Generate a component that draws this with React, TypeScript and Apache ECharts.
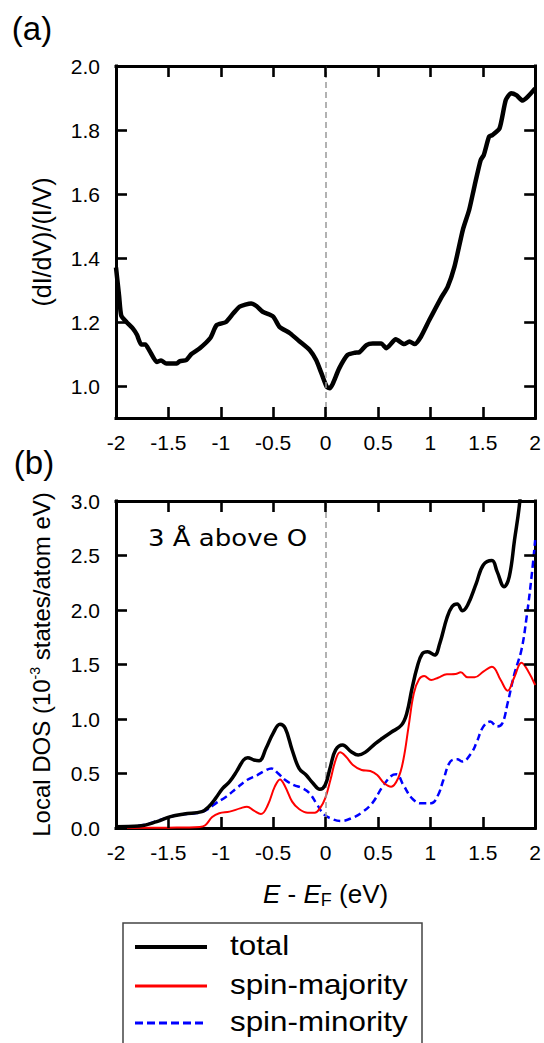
import React, { useEffect, useRef } from "react";
import * as echarts from "echarts";

// ---------- data ----------
const xTickValues = [-2, -1.5, -1, -0.5, 0, 0.5, 1, 1.5, 2];
const ratioTickValues = [1.0, 1.2, 1.4, 1.6, 1.8, 2.0];
const dosTickValues = [0, 0.5, 1, 1.5, 2, 2.5, 3];

// panel (a): (dI/dV)/(I/V)
const biasV = [
  -2.0, -1.99, -1.97, -1.95, -1.9, -1.84, -1.8, -1.76, -1.72, -1.68, -1.61, -1.57, -1.52, -1.42,
  -1.39, -1.33, -1.28, -1.2, -1.1, -1.04, -0.95, -0.88, -0.82, -0.71, -0.66, -0.6, -0.5, -0.44,
  -0.34, -0.25, -0.15, -0.09, -0.04, 0.01, 0.04, 0.07, 0.13, 0.21, 0.28, 0.32, 0.39, 0.45, 0.53,
  0.58, 0.67, 0.75, 0.8, 0.85, 0.91, 0.99, 1.1, 1.165, 1.23, 1.31, 1.37, 1.42, 1.48, 1.51, 1.56,
  1.59, 1.66, 1.72, 1.77, 1.82, 1.88, 1.93, 2.0,
];
const ratioValues = [
  1.37, 1.34, 1.28, 1.22, 1.2, 1.18, 1.16, 1.13, 1.13, 1.11, 1.075, 1.08, 1.07, 1.07,
  1.078, 1.081, 1.1, 1.118, 1.15, 1.19, 1.2, 1.227, 1.248, 1.258, 1.25, 1.232, 1.217, 1.185,
  1.165, 1.14, 1.112, 1.081, 1.04, 0.998, 0.993, 1.008, 1.055, 1.097, 1.104, 1.105, 1.128, 1.133, 1.133,
  1.118, 1.146, 1.131, 1.139, 1.131, 1.154, 1.206, 1.274, 1.31, 1.373, 1.488, 1.55, 1.623, 1.706, 1.722, 1.779,
  1.784, 1.805, 1.894, 1.915, 1.909, 1.892, 1.904, 1.93,
];

// panel (b): local DOS
const eTotal = [
  -2.0, -1.78, -1.61, -1.48, -1.35, -1.18, -1.115, -1.05, -0.982, -0.916, -0.85, -0.783, -0.743,
  -0.684, -0.634, -0.568, -0.501, -0.435, -0.385, -0.319, -0.253, -0.186, -0.12, -0.054, -0.004,
  0.046, 0.096, 0.162, 0.245, 0.311, 0.377, 0.477, 0.543, 0.626, 0.725, 0.775, 0.825, 0.875, 0.924,
  0.974, 1.04, 1.09, 1.157, 1.206, 1.256, 1.306, 1.356, 1.438, 1.505, 1.588, 1.637, 1.704, 1.753,
  1.803, 1.853, 1.9,
];
const dosTotal = [
  0.012, 0.018, 0.058, 0.104, 0.128, 0.15, 0.196, 0.272, 0.364, 0.425, 0.517, 0.624, 0.645,
  0.624, 0.618, 0.731, 0.869, 0.951, 0.914, 0.716, 0.547, 0.486, 0.41, 0.355, 0.394,
  0.563, 0.716, 0.761, 0.7, 0.67, 0.694, 0.777, 0.823, 0.878, 0.945, 1.052, 1.281, 1.48, 1.602,
  1.618, 1.587, 1.694, 1.924, 2.03, 2.055, 1.994, 2.046, 2.245, 2.413, 2.453, 2.352, 2.214, 2.306,
  2.642, 2.994, 3.6,
];
const eMajority = [
  -2.0, -1.5, -1.2, -1.148, -1.082, -1.015, -0.916, -0.816, -0.75, -0.684, -0.617, -0.551, -0.485,
  -0.435, -0.385, -0.319, -0.253, -0.17, -0.103, -0.054, -0.004, 0.046, 0.096, 0.139, 0.195, 0.261,
  0.344, 0.427, 0.493, 0.56, 0.626, 0.692, 0.742, 0.792, 0.842, 0.892, 0.941, 1.008, 1.074, 1.157,
  1.24, 1.29, 1.356, 1.422, 1.505, 1.588, 1.671, 1.737, 1.803, 1.869, 1.936, 2.0,
];
const dosMajority = [
  0.0, 0.003, 0.01, 0.025, 0.1, 0.135, 0.15, 0.18, 0.196, 0.16, 0.128, 0.211, 0.379,
  0.446, 0.379, 0.242, 0.174, 0.14, 0.14, 0.18, 0.272, 0.44, 0.624, 0.694, 0.654, 0.578,
  0.532, 0.523, 0.486, 0.41, 0.379, 0.456, 0.624, 0.93, 1.235, 1.364, 1.394, 1.358, 1.379, 1.41,
  1.413, 1.428, 1.382, 1.382, 1.434, 1.48, 1.358, 1.26, 1.388, 1.517, 1.434, 1.312,
];
const eMinority = [
  -2.0, -1.78, -1.58, -1.413, -1.247, -1.148, -1.048, -0.949, -0.85, -0.75, -0.651, -0.584, -0.518,
  -0.452, -0.385, -0.302, -0.219, -0.153, -0.087, -0.02, 0.046, 0.146, 0.245, 0.344, 0.444, 0.543,
  0.626, 0.676, 0.742, 0.825, 0.908, 1.008, 1.074, 1.124, 1.19, 1.256, 1.306, 1.389, 1.438, 1.505,
  1.571, 1.637, 1.687, 1.737, 1.803, 1.869, 1.919, 1.969, 2.0,
];
const dosMinority = [
  0.012, 0.021, 0.073, 0.119, 0.135, 0.16, 0.226, 0.287, 0.364, 0.44, 0.486, 0.523, 0.547,
  0.5, 0.44, 0.394, 0.364, 0.318, 0.226, 0.128, 0.089, 0.064, 0.089, 0.141, 0.226, 0.379,
  0.477, 0.492, 0.394, 0.272, 0.226, 0.226, 0.303, 0.44, 0.609, 0.63, 0.609, 0.685, 0.777, 0.93,
  0.976, 0.93, 0.96, 1.144, 1.419, 1.633, 1.939, 2.336, 2.642,
];

const seriesNames = ["total", "spin-majority", "spin-minority"];

// ---------- layout / helpers ----------
const zip = (xs: number[], ys: number[]) => xs.map((x, i) => [x, ys[i]]);
const SANS = "'Liberation Sans', Arial, Helvetica, sans-serif";
const DEJAVU = "'DejaVu Sans', Verdana, sans-serif";
const TICK_LEN = 11;
const X_MIN = -2;
const X_MAX = 2;
const GRIDS = [
  { left: 116, top: 66, width: 420, height: 352, yMin: 0.9, yMax: 2.0, yTicks: ratioTickValues },
  { left: 116, top: 501, width: 420, height: 327, yMin: 0, yMax: 3, yTicks: dosTickValues },
];

const axisLineStyle = { show: true, onZero: false, lineStyle: { color: "#000", width: 3, cap: "square" as const } };
const labelStyle = (show: boolean, margin: number, fmt: (v: number) => string, showMin = true) => ({
  show,
  color: "#000",
  fontFamily: SANS,
  fontSize: 21,
  margin,
  showMinLabel: showMin,
  showMaxLabel: true,
  formatter: fmt,
});

const fmtX = (v: number) => (xTickValues.includes(v) ? String(v) : "");
const fmtRatio = (v: number) => (ratioTickValues.some((t) => Math.abs(t - v) < 1e-6) ? v.toFixed(1) : "");
const fmtDos = (v: number) => (dosTickValues.includes(v) ? v.toFixed(1) : "");

// markLine holding the dashed E_F line plus inward tick marks on all four sides (in data coordinates)
function frameMarkLine(gi: number) {
  const g = GRIDS[gi];
  const dy = (TICK_LEN / g.height) * (g.yMax - g.yMin);
  const dx = (TICK_LEN / g.width) * (X_MAX - X_MIN);
  const tickStyle = { color: "#000", width: 2.6, type: "solid" as const };
  const data: any[] = [
    { xAxis: 0, lineStyle: { color: "#999", width: 1.5, type: [6, 4] } },
  ];
  for (const v of xTickValues) {
    data.push([{ coord: [v, g.yMin], lineStyle: tickStyle }, { coord: [v, g.yMin + dy] }]);
    data.push([{ coord: [v, g.yMax], lineStyle: tickStyle }, { coord: [v, g.yMax - dy] }]);
  }
  for (const v of g.yTicks) {
    data.push([{ coord: [X_MIN, v], lineStyle: tickStyle }, { coord: [X_MIN + dx, v] }]);
    data.push([{ coord: [X_MAX, v], lineStyle: tickStyle }, { coord: [X_MAX - dx, v] }]);
  }
  return {
    silent: true,
    symbol: ["none", "none"],
    label: { show: false },
    emphasis: { disabled: true },
    lineStyle: { color: "#000", width: 2.6, type: "solid" },
    data,
  };
}

const staticGraphic: any[] = [
  { type: "text", x: 32, y: 28, style: { text: "(a)", font: `33px ${SANS}`, fill: "#000", textAlign: "center", textVerticalAlign: "middle" } },
  { type: "text", x: 34, y: 462, style: { text: "(b)", font: `33px ${SANS}`, fill: "#000", textAlign: "center", textVerticalAlign: "middle" } },
  {
    type: "text", x: 148, y: 538, scaleX: 1.13,
    style: { text: "3 Å above O", font: `23px ${DEJAVU}`, fill: "#000", textAlign: "left", textVerticalAlign: "middle" },
  },
  {
    type: "rect", shape: { x: 123, y: 923, width: 299, height: 160 },
    style: { fill: "#fff", stroke: "#444", lineWidth: 1.5 },
  },
  { type: "line", shape: { x1: 135, y1: 947, x2: 207, y2: 947 }, style: { stroke: "#000", lineWidth: 4 } },
  { type: "line", shape: { x1: 135, y1: 986, x2: 207, y2: 986 }, style: { stroke: "#ff0000", lineWidth: 3 } },
  { type: "line", shape: { x1: 135, y1: 1023, x2: 207, y2: 1023 }, style: { stroke: "#0000ff", lineWidth: 3, lineDash: [8, 4] } },
  { type: "text", x: 230, y: 945, scaleX: 1.12, style: { text: seriesNames[0], font: `28px ${SANS}`, fill: "#000", textVerticalAlign: "middle" } },
  { type: "text", x: 230, y: 984, scaleX: 1.12, style: { text: seriesNames[1], font: `28px ${SANS}`, fill: "#000", textVerticalAlign: "middle" } },
  { type: "text", x: 230, y: 1021, scaleX: 1.12, style: { text: seriesNames[2], font: `28px ${SANS}`, fill: "#000", textVerticalAlign: "middle" } },
];

function buildOption() {
  const xAxisFor = (grid: number, position: "top" | "bottom", showLabel: boolean, extra: any = {}) => ({
    type: "value",
    gridIndex: grid,
    position,
    min: X_MIN,
    max: X_MAX,
    interval: 0.5,
    axisLine: axisLineStyle,
    axisTick: { show: false },
    axisLabel: labelStyle(showLabel, 14, fmtX),
    splitLine: { show: false },
    ...extra,
  });
  const ratioAxis = (position: "left" | "right", showLabel: boolean, extra: any = {}) => ({
    type: "value",
    gridIndex: 0,
    position,
    min: GRIDS[0].yMin,
    max: GRIDS[0].yMax,
    splitNumber: 5,
    axisLine: axisLineStyle,
    axisTick: { show: false },
    axisLabel: labelStyle(showLabel, 16, fmtRatio, false),
    splitLine: { show: false },
    ...extra,
  });
  const dosAxis = (position: "left" | "right", showLabel: boolean, extra: any = {}) => ({
    type: "value",
    gridIndex: 1,
    position,
    min: GRIDS[1].yMin,
    max: GRIDS[1].yMax,
    interval: 0.5,
    axisLine: axisLineStyle,
    axisTick: { show: false },
    axisLabel: labelStyle(showLabel, 16, fmtDos),
    splitLine: { show: false },
    ...extra,
  });
  return {
    animation: false,
    backgroundColor: "#fff",
    grid: GRIDS.map((g) => ({ left: g.left, top: g.top, width: g.width, height: g.height })),
    xAxis: [
      xAxisFor(0, "bottom", true),
      xAxisFor(0, "top", false),
      xAxisFor(1, "bottom", true, {
        name: "{i|E} - {i|E}{sub|F} (eV)",
        nameLocation: "middle",
        nameGap: 50,
        nameTextStyle: {
          color: "#000",
          fontFamily: SANS,
          fontSize: 26,
          rich: {
            i: { fontStyle: "italic", fontFamily: SANS, fontSize: 26, color: "#000" },
            sub: { fontFamily: SANS, fontSize: 18, color: "#000", padding: [13, 0, 0, 0] },
          },
        },
      }),
      xAxisFor(1, "top", false),
    ],
    yAxis: [
      ratioAxis("left", true, {
        name: "(dI/dV)/(I/V)",
        nameLocation: "middle",
        nameGap: 62,
        nameTextStyle: { color: "#000", fontFamily: SANS, fontSize: 25 },
      }),
      ratioAxis("right", false),
      dosAxis("left", true, {
        name: "Local DOS (10{sup|-3} states/atom eV)",
        nameLocation: "middle",
        nameGap: 62,
        nameTextStyle: {
          color: "#000",
          fontFamily: SANS,
          fontSize: 24,
          rich: { sup: { fontFamily: SANS, fontSize: 14, color: "#000", padding: [0, 0, 12, 0] } },
        },
      }),
      dosAxis("right", false),
    ],
    series: [
      {
        name: "dI/dV ratio",
        type: "line",
        xAxisIndex: 0,
        yAxisIndex: 0,
        data: zip(biasV, ratioValues),
        showSymbol: false,
        symbol: "none",
        smooth: 0.2,
        lineStyle: { color: "#000", width: 4.5, join: "round" },
        markLine: frameMarkLine(0),
        z: 3,
      },
      {
        name: seriesNames[2],
        type: "line",
        xAxisIndex: 2,
        yAxisIndex: 2,
        data: zip(eMinority, dosMinority),
        symbol: "none",
        smooth: 0.4,
        lineStyle: { color: "#0000ff", width: 2.5, type: [7, 4] },
        markLine: frameMarkLine(1),
        z: 3,
      },
      {
        name: seriesNames[1],
        type: "line",
        xAxisIndex: 2,
        yAxisIndex: 2,
        data: zip(eMajority, dosMajority),
        symbol: "none",
        smooth: 0.4,
        lineStyle: { color: "#ff0000", width: 2 },
        z: 4,
      },
      {
        name: seriesNames[0],
        type: "line",
        xAxisIndex: 2,
        yAxisIndex: 2,
        data: zip(eTotal, dosTotal),
        symbol: "none",
        smooth: 0.4,
        lineStyle: { color: "#000", width: 3.5 },
        z: 5,
      },
    ],
    graphic: staticGraphic,
  };
}

export default function App() {
  const ref = useRef<HTMLDivElement>(null);
  useEffect(() => {
    if (!ref.current) return;
    const chart = echarts.init(ref.current, null, { renderer: "svg" });
    chart.setOption(buildOption() as any);
    return () => chart.dispose();
  }, []);
  return (
    <div
      ref={ref}
      style={{ position: "absolute", left: 0, top: 0, width: 544, height: 1043, background: "#fff" }}
    />
  );
}
